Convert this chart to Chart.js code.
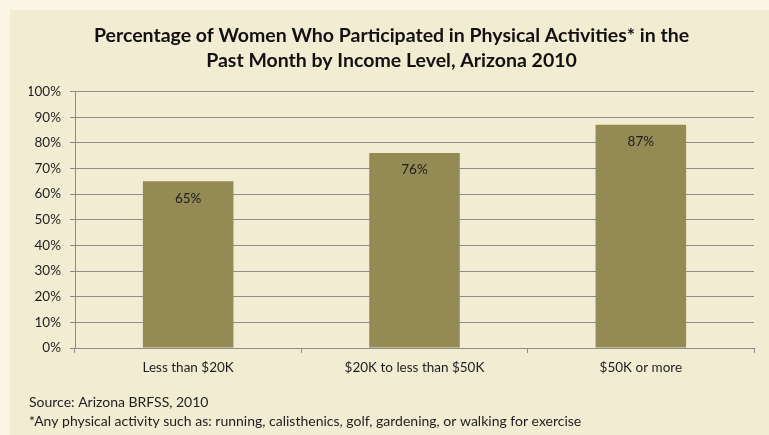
<!DOCTYPE html>
<html>
<head>
<meta charset="utf-8">
<script src="https://cdn.jsdelivr.net/npm/chart.js@4.4.1/dist/chart.umd.min.js"></script>
<style>
  body { margin: 0; background: #fbf5e6; }
  #wrap { width: 769px; height: 435px; }
</style>
</head>
<body>
<div id="wrap"><canvas id="chart" width="769" height="435"></canvas></div>
<script>
const categories = ['Less than $20K', '$20K to less than $50K', '$50K or more'];
const percentages = [65, 76, 87];
const yTicks = [0, 10, 20, 30, 40, 50, 60, 70, 80, 90, 100];

const titleLines = [
  'Percentage of Women Who Participated in Physical Activities* in the',
  'Past Month by Income Level, Arizona 2010'
];
const footLines = [
  'Source: Arizona BRFSS, 2010',
  '*Any physical activity such as: running, calisthenics, golf, gardening, or walking for exercise'
];

const FONT = 'Lato, "Open Sans", sans-serif';

// light panel behind the chart
const panel = {
  id: 'panel',
  beforeDraw(chart) {
    const ctx = chart.ctx;
    ctx.save();
    ctx.fillStyle = '#f2ecd2';
    ctx.fillRect(10, 10, chart.width - 10, chart.height - 10);
    ctx.restore();
  }
};

// value labels just inside the top of each bar
const barLabels = {
  id: 'barLabels',
  afterDatasetsDraw(chart) {
    const ctx = chart.ctx;
    const meta = chart.getDatasetMeta(0);
    ctx.save();
    ctx.font = '13.5px ' + FONT;
    ctx.fillStyle = '#1e1e1e';
    ctx.textAlign = 'center';
    ctx.textBaseline = 'middle';
    meta.data.forEach((bar, i) => {
      ctx.fillText(percentages[i] + '%', bar.x, bar.y + 17);
    });
    ctx.restore();
  }
};

new Chart(document.getElementById('chart').getContext('2d'), {
  type: 'bar',
  data: {
    labels: categories,
    datasets: [{
      data: percentages,
      backgroundColor: '#948a54',
      borderWidth: 0,
      barPercentage: 0.4,
      categoryPercentage: 1.0
    }]
  },
  options: {
    responsive: false,
    animation: false,
    layout: { padding: { left: 29, right: 15, top: 0, bottom: 0 } },
    plugins: {
      legend: { display: false },
      tooltip: { enabled: false },
      title: {
        display: true,
        text: titleLines,
        color: '#111',
        font: { family: FONT, size: 19.5, weight: 'bold', lineHeight: 25 / 19.5 },
        padding: { top: 23, bottom: 18.5 }
      },
      subtitle: {
        display: true,
        position: 'bottom',
        align: 'start',
        text: footLines,
        color: '#1e1e1e',
        font: { family: FONT, size: 14, lineHeight: 19 / 14 },
        padding: { top: 9.8, bottom: 4 }
      }
    },
    scales: {
      x: {
        offset: true,
        grid: {
          offset: true,
          drawOnChartArea: false,
          drawTicks: true,
          tickLength: 5,
          color: '#8c8c8c'
        },
        border: { color: '#8c8c8c' },
        ticks: {
          color: '#1e1e1e',
          padding: 7,
          font: { family: FONT, size: 13.5, lineHeight: 1.2 }
        }
      },
      y: {
        min: 0,
        max: 100,
        afterFit(scale) { scale.width = 46; },
        afterBuildTicks(scale) { scale.ticks = yTicks.map(v => ({ value: v })); },
        grid: { color: '#8c8c8c', tickLength: 5 },
        border: { color: '#8c8c8c' },
        ticks: {
          color: '#1e1e1e',
          padding: 9,
          font: { family: FONT, size: 13.5 },
          callback: v => v + '%'
        }
      }
    }
  },
  plugins: [panel, barLabels]
});
</script>
</body>
</html>
